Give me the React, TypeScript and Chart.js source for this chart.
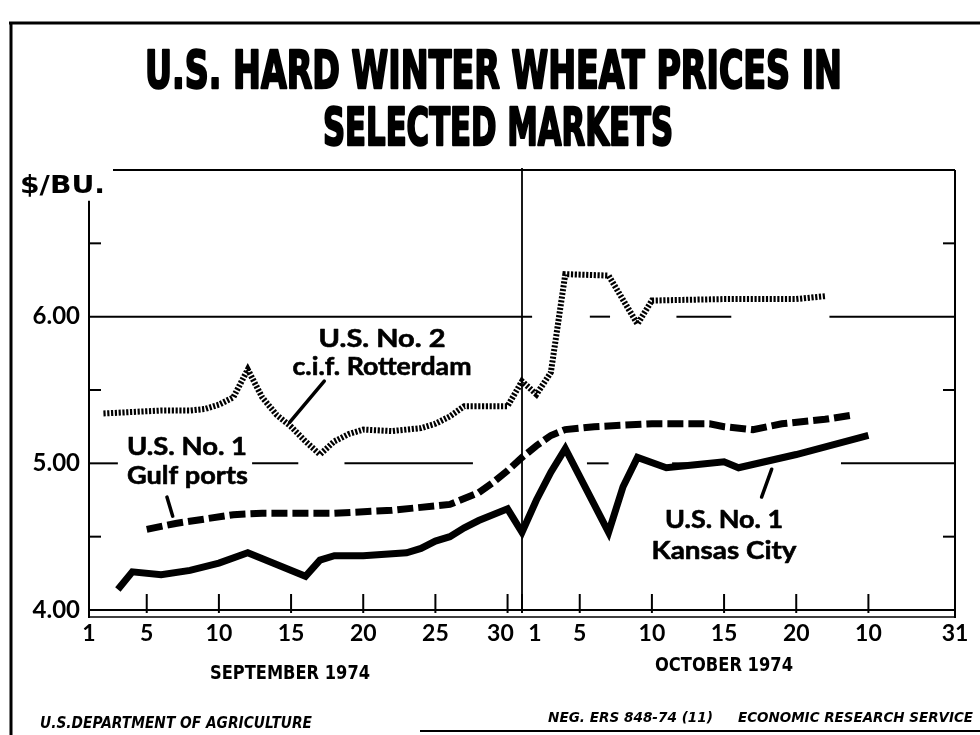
import React, { useEffect, useRef } from 'react';
import { Chart, registerables } from 'chart.js';

Chart.register(...registerables);

// Day index: 1..30 = September 1974, 31..61 = October 1..31
const xTickDays = [1, 5, 10, 15, 20, 25, 30, 31, 35, 40, 45, 50, 55, 61];
const xTickLabels = ['1', '5', '10', '15', '20', '25', '30\u2002\u2009', '\u2003\u2009 1', '5', '10', '15', '20', '10', '31'];
const yTickValues = [4, 5, 6];
const yTickLabels = ['4.00', '5.00', '6.00'];
const yMinorTicks = [4.5, 5.5, 6.5];

const rotterdamDays = [2, 4, 6, 8, 9, 10, 11, 12, 13, 14, 15, 16, 17, 18, 19, 20, 22, 24, 25, 26, 27, 30, 31, 32, 33, 34, 37, 39, 40, 45, 50, 52];
const rotterdamPrices = [5.34, 5.35, 5.36, 5.36, 5.37, 5.4, 5.45, 5.64, 5.45, 5.33, 5.25, 5.15, 5.06, 5.15, 5.2, 5.23, 5.22, 5.24, 5.27, 5.32, 5.39, 5.39, 5.56, 5.47, 5.62, 6.29, 6.28, 5.95, 6.11, 6.12, 6.12, 6.14];

const gulfDays = [5, 7, 9, 11, 13, 18, 22, 25, 26, 27, 28, 29, 30, 31, 32, 33, 34, 36, 40, 44, 45, 47, 49, 52, 54];
const gulfPrices = [4.55, 4.59, 4.62, 4.65, 4.66, 4.66, 4.68, 4.71, 4.72, 4.76, 4.8, 4.87, 4.95, 5.04, 5.12, 5.19, 5.23, 5.25, 5.27, 5.27, 5.25, 5.23, 5.27, 5.3, 5.33];

const kansasDays = [3, 4, 6, 8, 10, 12, 14, 16, 17, 18, 20, 23, 24, 25, 26, 27, 28, 30, 31, 32, 33, 34, 37, 38, 39, 41, 43, 45, 46, 50, 55];
const kansasPrices = [4.14, 4.26, 4.24, 4.27, 4.32, 4.39, 4.31, 4.23, 4.34, 4.37, 4.37, 4.39, 4.42, 4.47, 4.5, 4.56, 4.61, 4.69, 4.53, 4.75, 4.94, 5.1, 4.53, 4.84, 5.04, 4.97, 4.99, 5.01, 4.97, 5.06, 5.19];

const seriesNames = ['U.S. No. 2 c.i.f. Rotterdam', 'U.S. No. 1 Gulf ports', 'U.S. No. 1 Kansas City'];

const TITLE_FONT = '"DejaVu Sans", sans-serif';
const LABEL_FONT = 'Lato, "DejaVu Sans", sans-serif';

function fitText(
  ctx: CanvasRenderingContext2D,
  text: string,
  x: number,
  baseline: number,
  width: number,
  font: string,
  align: 'left' | 'center' = 'left',
  stroke = 0
) {
  ctx.save();
  ctx.font = font;
  ctx.textAlign = 'left';
  ctx.textBaseline = 'alphabetic';
  const w = ctx.measureText(text).width;
  const sx = width / w;
  const left = align === 'center' ? x - width / 2 : x;
  ctx.translate(left, baseline);
  ctx.scale(sx, 1);
  ctx.fillStyle = '#000';
  ctx.fillText(text, 0, 0);
  if (stroke > 0) {
    ctx.strokeStyle = '#000';
    ctx.lineJoin = 'round';
    ctx.lineWidth = stroke;
    ctx.strokeText(text, 0, 0);
  }
  ctx.restore();
}

function seg(ctx: CanvasRenderingContext2D, x1: number, y1: number, x2: number, y2: number, w: number) {
  ctx.lineWidth = w;
  ctx.beginPath();
  ctx.moveTo(x1, y1);
  ctx.lineTo(x2, y2);
  ctx.stroke();
}

const decorPlugin = {
  id: 'decor',
  beforeDatasetsDraw(chart: any) {
    const { ctx, chartArea: a, scales } = chart;
    const xs = scales.x;
    const ys = scales.y;
    const px = (d: number) => xs.getPixelForValue(d);
    const py = (v: number) => ys.getPixelForValue(v);
    ctx.save();
    ctx.strokeStyle = '#000';
    ctx.lineCap = 'butt';
    // outer frame
    seg(ctx, 9, 23, 980, 23, 3);
    seg(ctx, 11, 22, 11, 735, 3);
    seg(ctx, 420, 731, 980, 731, 2);
    // plot frame
    seg(ctx, 113, a.top, a.right, a.top, 2);
    seg(ctx, a.right, a.top, a.right, a.bottom + 8, 2);
    seg(ctx, a.left, py(6.79), a.left, a.bottom + 8, 2);
    // x axis double line
    seg(ctx, a.left, a.bottom, a.right, a.bottom, 2);
    seg(ctx, a.left, a.bottom + 7, a.right, a.bottom + 7, 1.5);
    // x ticks
    xTickDays.forEach((d) => {
      const x = px(d);
      seg(ctx, x, a.bottom - 16, x, a.bottom + 3, 2);
    });
    // minor y ticks
    yMinorTicks.forEach((v) => {
      seg(ctx, a.left, py(v), a.left + 12, py(v), 2);
      seg(ctx, a.right - 12, py(v), a.right, py(v), 2);
    });
    // broken grid lines
    const grid6 = [[1, 31.7], [35.7, 37.1], [41.7, 45.5], [52.3, 61]];
    const grid5 = [[1, 3], [12.3, 15.5], [18.7, 27.6], [35.5, 37], [41.4, 43.2], [53.1, 61]];
    grid6.forEach(([s, e]) => seg(ctx, px(s), py(6), px(e), py(6), 2));
    grid5.forEach(([s, e]) => seg(ctx, px(s), py(5), px(e), py(5), 2));
    // month divider
    seg(ctx, px(31), a.top - 2, px(31), a.bottom, 1.8);
    ctx.restore();
  },
  afterDatasetsDraw(chart: any) {
    const { ctx, scales } = chart;
    const xs = scales.x;
    const ys = scales.y;
    const px = (d: number) => xs.getPixelForValue(d);
    const py = (v: number) => ys.getPixelForValue(v);
    ctx.save();
    // title
    fitText(ctx, 'U.S. HARD WINTER WHEAT PRICES IN', 145, 88, 697, `bold 52px ${TITLE_FONT}`, 'left', 2.5);
    fitText(ctx, 'SELECTED MARKETS', 323, 145, 350, `bold 52px ${TITLE_FONT}`, 'left', 2.5);
    // unit
    fitText(ctx, '$/BU.', 20, 193, 85, `bold 25px ${TITLE_FONT}`);
    // series annotations
    const lf = `bold 25px ${LABEL_FONT}`;
    fitText(ctx, 'U.S. No. 2', px(21.3), py(5.79), 127, lf, 'center', 0.6);
    fitText(ctx, 'c.i.f. Rotterdam', px(21.3), py(5.6), 179, lf, 'center', 0.6);
    fitText(ctx, 'U.S. No. 1', px(3.63), py(5.06), 120, lf, 'left', 0.6);
    fitText(ctx, 'Gulf ports', px(3.63), py(4.86), 121, lf, 'left', 0.6);
    fitText(ctx, 'U.S. No. 1', px(45), py(4.56), 118, lf, 'center', 0.6);
    fitText(ctx, 'Kansas City', px(45), py(4.35), 145, lf, 'center', 0.6);
    ctx.strokeStyle = '#000';
    ctx.lineCap = 'round';
    seg(ctx, px(17.3), py(5.56), px(14.9), py(5.28), 3.5);
    seg(ctx, px(6.4), py(4.77), px(6.8), py(4.64), 3.5);
    seg(ctx, px(48.3), py(4.96), px(47.6), py(4.77), 3.5);
    // month labels
    fitText(ctx, 'SEPTEMBER 1974', 210, 679, 160, `bold 19px ${TITLE_FONT}`);
    fitText(ctx, 'OCTOBER 1974', 655, 671, 138, `bold 19px ${TITLE_FONT}`);
    // footer
    fitText(ctx, 'U.S.DEPARTMENT OF AGRICULTURE', 40, 728, 272, `bold oblique 15px ${TITLE_FONT}`);
    fitText(ctx, 'NEG. ERS 848-74 (11)', 548, 722, 165, `bold oblique 14px ${TITLE_FONT}`);
    fitText(ctx, 'ECONOMIC RESEARCH SERVICE', 738, 722, 235, `bold oblique 14px ${TITLE_FONT}`);
    ctx.restore();
  },
};

export default function App() {
  const canvasRef = useRef<HTMLCanvasElement | null>(null);

  useEffect(() => {
    const canvas = canvasRef.current;
    if (!canvas) return;
    const toPoints = (days: number[], vals: number[]) => days.map((d, i) => ({ x: d, y: vals[i] }));
    const chart = new Chart(canvas, {
      type: 'line',
      data: {
        datasets: [
          {
            label: seriesNames[0],
            data: toPoints(rotterdamDays, rotterdamPrices),
            borderColor: '#000',
            borderWidth: 6,
            borderDash: [2.2, 1.6],
            borderCapStyle: 'butt',
            pointRadius: 0,
            tension: 0,
            fill: false,
          },
          {
            label: seriesNames[1],
            data: toPoints(gulfDays, gulfPrices),
            borderColor: '#000',
            borderWidth: 7,
            borderDash: [16, 5],
            borderCapStyle: 'butt',
            pointRadius: 0,
            tension: 0,
            fill: false,
          },
          {
            label: seriesNames[2],
            data: toPoints(kansasDays, kansasPrices),
            borderColor: '#000',
            borderWidth: 7,
            borderJoinStyle: 'miter',
            pointRadius: 0,
            tension: 0,
            fill: false,
          },
        ],
      },
      options: {
        animation: false,
        responsive: false,
        devicePixelRatio: 1,
        layout: { padding: { top: 170, right: 25, left: 0, bottom: 0 } },
        plugins: {
          legend: { display: false },
          tooltip: { enabled: false },
          title: { display: false },
        },
        scales: {
          x: {
            type: 'linear',
            min: 1,
            max: 61,
            afterBuildTicks: (s: any) => {
              s.ticks = xTickDays.map((v) => ({ value: v }));
            },
            afterFit: (s: any) => {
              s.height = 125;
            },
            ticks: {
              autoSkip: false,
              maxRotation: 0,
              minRotation: 0,
              padding: 10,
              color: '#000',
              font: { family: LABEL_FONT, size: 23, weight: 'bold' },
              callback: (_v: any, i: number) => xTickLabels[i],
            },
            grid: { display: false, drawTicks: false },
            border: { display: false },
          },
          y: {
            min: 4,
            max: 7,
            afterBuildTicks: (s: any) => {
              s.ticks = yTickValues.map((v) => ({ value: v }));
            },
            afterFit: (s: any) => {
              s.width = 89;
            },
            ticks: {
              padding: 9,
              color: '#000',
              font: { family: LABEL_FONT, size: 24, weight: 'bold' },
              callback: (_v: any, i: number) => yTickLabels[i],
            },
            grid: { display: false, drawTicks: false },
            border: { display: false },
          },
        },
      },
      plugins: [decorPlugin],
    } as any);
    return () => chart.destroy();
  }, []);

  return (
    <div style={{ position: 'absolute', left: 0, top: 0, width: 980, height: 735, background: '#fff' }}>
      <canvas ref={canvasRef} width={980} height={735} style={{ display: 'block' }} />
    </div>
  );
}
